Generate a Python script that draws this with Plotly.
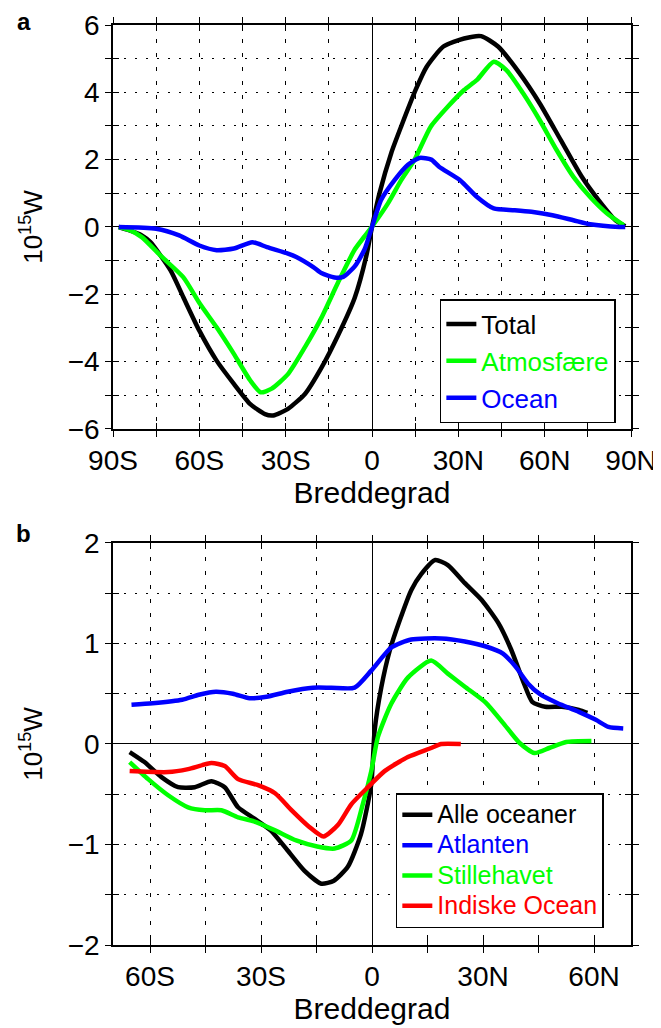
import plotly.graph_objects as go

# ---------------- Panel a: total / atmosphere / ocean (10^15 W) ----------------
lat_total = [-88, -85, -80, -77, -70, -65.6, -60, -54, -48, -42.3, -37.2, -34.3, -29.2, -23.3,
             -17.5, -11.7, -6, -2, 0, 2.6, 6.7, 10.2, 15.3, 19, 24.8, 32, 37.9, 43.8, 51, 58.3,
             65.6, 72.9, 78.8, 84.6, 88]
val_total = [0, -0.08, -0.25, -0.45, -1.29, -2.08, -3.08, -3.97, -4.66, -5.26, -5.56, -5.6, -5.4,
             -4.96, -4.17, -3.2, -2.1, -0.87, 0, 1.0, 2.2, 3.0, 4.1, 4.76, 5.36, 5.6, 5.67, 5.36,
             4.6, 3.67, 2.58, 1.49, 0.79, 0.2, 0.02]

lat_atm = [-88, -84, -80, -73, -65.6, -59.8, -54, -48, -42.3, -38.7, -35, -29.2, -23.3, -17.6,
           -11.8, -6, -2.6, 0.9, 5.6, 10.2, 14.8, 20.4, 26.3, 32, 36.5, 42.3, 46.7, 52.5, 58.3,
           64.2, 70, 75.8, 81.7, 87.5]
val_atm = [0, -0.1, -0.3, -0.89, -1.49, -2.28, -2.98, -3.77, -4.56, -4.91, -4.81, -4.37, -3.57,
           -2.7, -1.65, -0.67, -0.28, 0.12, 0.71, 1.4, 2.0, 2.98, 3.57, 4.07, 4.37, 4.91, 4.66,
           3.97, 3.17, 2.28, 1.49, 0.89, 0.4, 0.05]

lat_ocn = [-88, -75, -67, -60, -54, -48, -41.6, -36.5, -29.2, -26.3, -20.4, -17.6, -13, -10, -6,
           -2.6, 0, 3.2, 7.9, 12.5, 16.5, 20.6, 23.3, 30.6, 36.5, 42.3, 49.6, 55.4, 62.7, 70,
           75.8, 86, 88]
val_ocn = [0, -0.05, -0.25, -0.55, -0.69, -0.64, -0.45, -0.6, -0.79, -0.89, -1.19, -1.37, -1.5,
           -1.48, -1.17, -0.67, 0, 0.81, 1.4, 1.85, 2.05, 2.0, 1.79, 1.39, 0.89, 0.55, 0.5, 0.45,
           0.35, 0.2, 0.08, 0, 0]

# ---------------- Panel b: ocean basins (10^15 W) ----------------
lat_all = [-65.5, -61.5, -56.9, -52.4, -47.9, -43.4, -39.8, -36.2, -31.9, -27.4, -22.8, -18.3,
           -13.7, -10.3, -6.5, -3, -0.2, 0.7, 2.5, 4.8, 7.5, 10.6, 13.3, 17.1, 20.5, 25.1, 29.7,
           34.2, 37.6, 41.1, 43.3, 46.8, 51.3, 55.9, 58.2]
val_all = [-0.08, -0.18, -0.33, -0.43, -0.43, -0.37, -0.43, -0.63, -0.74, -0.86, -1.06, -1.26,
           -1.39, -1.36, -1.22, -0.9, -0.4, 0.13, 0.56, 0.93, 1.23, 1.53, 1.69, 1.83, 1.78, 1.6,
           1.43, 1.2, 0.94, 0.6, 0.42, 0.37, 0.37, 0.34, 0.31]

lat_atl = [-65, -59.3, -51.3, -46.8, -42.2, -37.6, -33.1, -28.5, -22.8, -16, -11, -4.7, -0.2,
           5.2, 10.6, 18.7, 25.1, 30.8, 35.4, 38.8, 42.2, 45.6, 50.2, 55.9, 60.5, 63.9, 67.9]
val_atl = [0.39, 0.405, 0.44, 0.49, 0.52, 0.5, 0.455, 0.47, 0.52, 0.56, 0.56, 0.56, 0.73, 0.96,
           1.04, 1.05, 1.02, 0.97, 0.9, 0.77, 0.6, 0.49, 0.405, 0.32, 0.24, 0.17, 0.155]

lat_pac = [-65.5, -60.5, -55.1, -49.7, -45.2, -40.7, -36.2, -31.9, -26.2, -20.5, -14.8, -10.1,
           -5.6, -2.5, -0.2, 1.6, 5.2, 9.7, 16, 20.5, 25.1, 30.8, 35.4, 39.9, 43.9, 47.9, 52.5,
           59.3]
val_pac = [-0.18, -0.35, -0.51, -0.63, -0.66, -0.66, -0.73, -0.77, -0.86, -0.96, -1.02, -1.04,
           -0.96, -0.6, -0.27, 0.07, 0.4, 0.66, 0.83, 0.7, 0.57, 0.41, 0.21, 0.01, -0.09, -0.04,
           0.02, 0.03]

lat_ind = [-65.5, -55.1, -49.7, -43.4, -39.8, -36.2, -30.8, -26.2, -21.7, -17.1, -13.1, -9.1,
           -5.6, -1.1, 3.4, 9.7, 16, 18.7, 24]
val_ind = [-0.27, -0.28, -0.25, -0.19, -0.22, -0.35, -0.41, -0.49, -0.66, -0.82, -0.92, -0.8,
           -0.6, -0.43, -0.27, -0.13, -0.04, 0, 0]

# tick labels
xa_ticks = [-90, -60, -30, 0, 30, 60, 90]
xa_text = ["90S", "60S", "30S", "0", "30N", "60N", "90N"]
xa_minor = [-75, -45, -15, 15, 45, 75]
xb_ticks = [-60, -30, 0, 30, 60]
xb_text = ["60S", "30S", "0", "30N", "60N"]
xb_minor = [-45, -15, 15, 45]

FONT = "Liberation Sans, Arial, sans-serif"
BLACK, GREEN, BLUE, RED = "#000000", "#00ff00", "#0000ff", "#ff0000"
LW = 4.5


def lab(text, color, size=None):
    st = f"color:{color}" + (f";font-size:{size}px" if size else "")
    return f"<span style='{st}'>{text}</span>"


fig = go.Figure()
sp = dict(shape="spline", smoothing=0.6)
fig.add_trace(go.Scatter(x=lat_total, y=val_total, mode="lines", name=lab("Total", BLACK),
                         line=dict(color=BLACK, width=LW, **sp), xaxis="x", yaxis="y", legend="legend"))
fig.add_trace(go.Scatter(x=lat_atm, y=val_atm, mode="lines", name=lab("Atmosfære", GREEN),
                         line=dict(color=GREEN, width=LW, **sp), xaxis="x", yaxis="y", legend="legend"))
fig.add_trace(go.Scatter(x=lat_ocn, y=val_ocn, mode="lines", name=lab("Ocean", BLUE),
                         line=dict(color=BLUE, width=LW, **sp), xaxis="x", yaxis="y", legend="legend"))

fig.add_trace(go.Scatter(x=lat_all, y=val_all, mode="lines", name=lab("Alle oceaner", BLACK, 25),
                         line=dict(color=BLACK, width=LW, **sp), xaxis="x2", yaxis="y2", legend="legend2"))
fig.add_trace(go.Scatter(x=lat_atl, y=val_atl, mode="lines", name=lab("Atlanten", BLUE, 25),
                         line=dict(color=BLUE, width=LW, **sp), xaxis="x2", yaxis="y2", legend="legend2"))
fig.add_trace(go.Scatter(x=lat_pac, y=val_pac, mode="lines", name=lab("Stillehavet", GREEN, 25),
                         line=dict(color=GREEN, width=LW, **sp), xaxis="x2", yaxis="y2", legend="legend2"))
fig.add_trace(go.Scatter(x=lat_ind, y=val_ind, mode="lines", name=lab("Indiske Ocean", RED, 25),
                         line=dict(color=RED, width=LW, **sp), xaxis="x2", yaxis="y2", legend="legend2"))

# empty traces to activate the overlay axes (used for inward tick marks)
fig.add_trace(go.Scatter(x=[], y=[], xaxis="x3", yaxis="y3", showlegend=False, hoverinfo="skip"))
fig.add_trace(go.Scatter(x=[], y=[], xaxis="x4", yaxis="y4", showlegend=False, hoverinfo="skip"))

tickfont = dict(family=FONT, size=28, color="black")
titlefont = dict(family=FONT, size=30, color="black")
ytitlefont = dict(family=FONT, size=26, color="black")

dom_a = [0.5609, 1.0]
dom_b = [0.0, 0.437]

common_x = dict(showline=True, linecolor="black", linewidth=1.5, mirror="ticks",
                ticks="outside", ticklen=6, tickwidth=1.3, tickcolor="black",
                showgrid=True, gridcolor="black", gridwidth=1, griddash="4px,10px",
                zeroline=True, zerolinecolor="black", zerolinewidth=1.2,
                tickfont=tickfont, ticklabelstandoff=0, automargin=False)
common_y = dict(showline=True, linecolor="black", linewidth=1.5, mirror="ticks",
                ticks="outside", ticklen=6, tickwidth=1.3, tickcolor="black",
                showgrid=True, gridcolor="black", gridwidth=1, griddash="2px,9px",
                zeroline=True, zerolinecolor="black", zerolinewidth=1.2,
                tickfont=tickfont, ticklabelstandoff=0, automargin=False)

minor_x = lambda vals: dict(tickvals=vals, showgrid=True, gridcolor="black", gridwidth=1,
                            griddash="4px,10px", ticks="outside", ticklen=6, tickcolor="black",
                            tickwidth=1.3)
minor_y = lambda d: dict(dtick=d, showgrid=True, gridcolor="black", gridwidth=1,
                         griddash="2px,9px", ticks="outside", ticklen=6, tickcolor="black",
                         tickwidth=1.3)

inner = dict(showline=False, showgrid=False, zeroline=False, showticklabels=False,
             ticks="inside", ticklen=6, tickwidth=1.3, tickcolor="black", mirror="ticks",
             automargin=False)

# the page body adds an 8px margin, so the figure is 8px smaller on each axis
fig.update_layout(
    width=653, height=1020,
    margin=dict(l=105, r=30, t=17, b=83),
    paper_bgcolor="white", plot_bgcolor="white",
    font=dict(family=FONT, color="black"),
    xaxis=dict(domain=[0, 1], anchor="y", range=[-90, 90], tickvals=xa_ticks, ticktext=xa_text,
               minor=minor_x(xa_minor),
               title=dict(text="Breddegrad", font=titlefont, standoff=6), **common_x),
    yaxis=dict(domain=dom_a, anchor="x", range=[-6, 6], dtick=2, minor=minor_y(1),
               title=dict(text="10<sup>15</sup>W", font=ytitlefont, standoff=18), **common_y),
    xaxis2=dict(domain=[0, 1], anchor="y2", range=[-70, 70], tickvals=xb_ticks, ticktext=xb_text,
                minor=minor_x(xb_minor),
                title=dict(text="Breddegrad", font=titlefont, standoff=6), **common_x),
    yaxis2=dict(domain=dom_b, anchor="x2", range=[-2, 2], dtick=1, minor=minor_y(0.5),
                title=dict(text="10<sup>15</sup>W", font=ytitlefont, standoff=18), **common_y),
    xaxis3=dict(overlaying="x", anchor="y3", range=[-90, 90], tickvals=xa_ticks + xa_minor, **inner),
    yaxis3=dict(overlaying="y", anchor="x3", domain=dom_a, range=[-6, 6], dtick=1, **inner),
    xaxis4=dict(overlaying="x2", anchor="y4", range=[-70, 70], tickvals=xb_ticks + xb_minor, **inner),
    yaxis4=dict(overlaying="y2", anchor="x4", domain=dom_b, range=[-2, 2], dtick=0.5, **inner),
    legend=dict(x=0.631, y=0.702, xanchor="left", yanchor="top", bgcolor="white",
                bordercolor="black", borderwidth=1.5, font=dict(family=FONT, size=26),
                tracegroupgap=0),
    legend2=dict(x=0.546, y=0.165, xanchor="left", yanchor="top", bgcolor="white",
                 bordercolor="black", borderwidth=1.5, font=dict(family=FONT, size=21),
                 tracegroupgap=0),
    showlegend=True,
    annotations=[
        dict(text="<b>a</b>", xref="paper", yref="paper", x=-0.172, y=1.0043,
             xanchor="center", yanchor="middle", showarrow=False,
             font=dict(family=FONT, size=24, color="black")),
        dict(text="<b>b</b>", xref="paper", yref="paper", x=-0.172, y=0.4478,
             xanchor="center", yanchor="middle", showarrow=False,
             font=dict(family=FONT, size=24, color="black")),
    ],
)

fig.write_html("out.html")
